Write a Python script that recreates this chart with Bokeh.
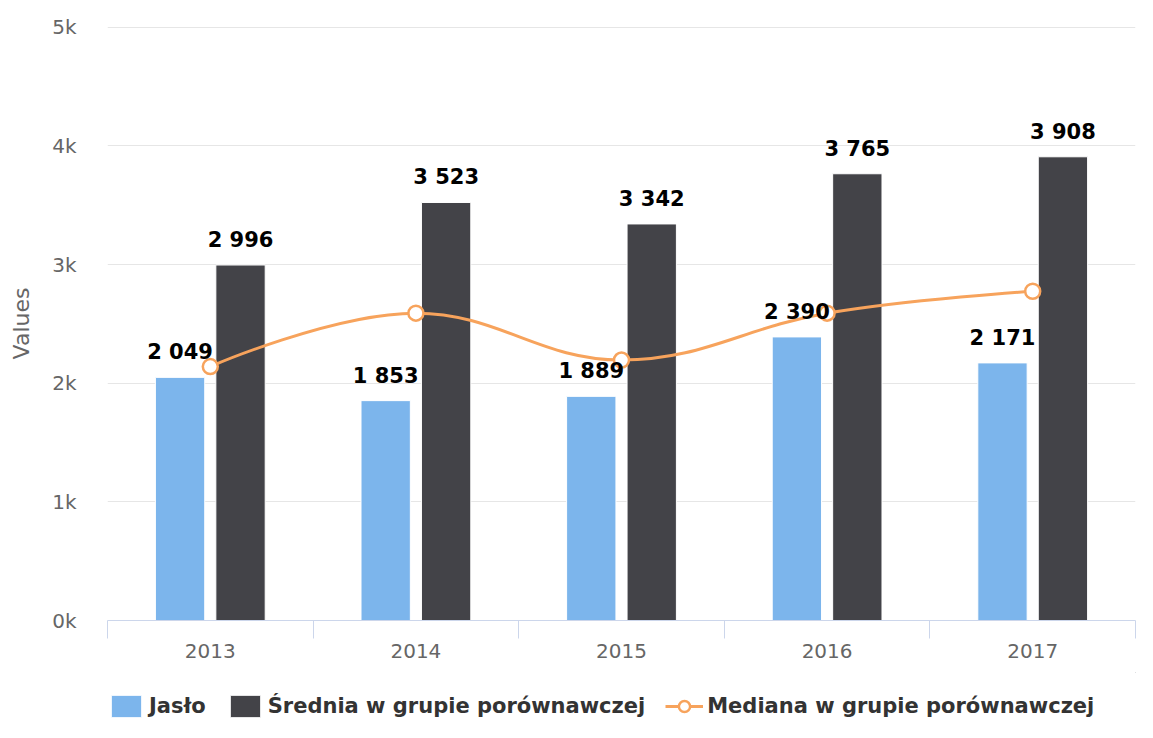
from bokeh.plotting import figure
from bokeh.models import (ColumnDataSource, Range1d, FixedTicker, LabelSet, Legend, LegendItem)
from bokeh.core.properties import value
from bokeh.layouts import column
from bokeh.embed import file_html
from bokeh.resources import INLINE

years = ["2013", "2014", "2015", "2016", "2017"]
jaslo = [2049, 1853, 1889, 2390, 2171]
srednia = [2996, 3523, 3342, 3765, 3908]
mediana = [2140, 2590, 2195, 2590, 2775]
y_ticks = [0, 1000, 2000, 3000, 4000, 5000]
y_tick_labels = ["0k", "1k", "2k", "3k", "4k", "5k"]
series_names = ["Jasło", "Średnia w grupie porównawczej", "Mediana w grupie porównawczej"]

C_BLUE = "#7cb5ec"
C_DARK = "#434348"
C_ORANGE = "#f7a35c"
FONT = "DejaVu Sans"

n = len(years)
idx = list(range(n))
off = 0.147
bw = 0.24

def fmt(v):
    return f"{v:,}".replace(",", " ")

src_j = ColumnDataSource(dict(x=[i - off for i in idx], top=jaslo, lab=[fmt(v) for v in jaslo]))
src_s = ColumnDataSource(dict(x=[i + off for i in idx], top=srednia, lab=[fmt(v) for v in srednia]))
src_m = ColumnDataSource(dict(x=idx, y=mediana))

p = figure(width=1137, height=672, output_backend="svg", toolbar_location=None,
           x_range=Range1d(-0.5, n - 0.5), y_range=Range1d(0, 5006),
           min_border_left=107, min_border_right=2, min_border_top=26, min_border_bottom=52)
p.outline_line_color = None
p.background_fill_color = "white"
p.border_fill_color = "white"

# axes
p.xaxis.ticker = FixedTicker(ticks=idx, minor_ticks=[i - 0.5 for i in range(n + 1)])
p.xaxis.major_label_overrides = {i: years[i] for i in idx}
p.xaxis.major_tick_in = 0
p.xaxis.major_tick_out = 0
p.xaxis.minor_tick_in = 0
p.xaxis.minor_tick_out = 18
p.xaxis.minor_tick_line_color = "#ccd6eb"
p.xaxis.axis_line_color = "#ccd6eb"
p.xaxis.major_label_text_color = "#666666"
p.xaxis.major_label_text_font = FONT
p.xaxis.major_label_text_font_size = "20px"
p.xaxis.major_label_standoff = 5
p.xgrid.grid_line_color = None

p.yaxis.ticker = FixedTicker(ticks=y_ticks, minor_ticks=[])
p.yaxis.major_label_overrides = {t: l for t, l in zip(y_ticks, y_tick_labels)}
p.yaxis.axis_line_color = None
p.yaxis.major_tick_line_color = None
p.yaxis.minor_tick_line_color = None
p.yaxis.major_tick_out = 0
p.yaxis.major_tick_in = 0
p.yaxis.major_label_standoff = 31
p.yaxis.major_label_text_color = "#666666"
p.yaxis.major_label_text_font = FONT
p.yaxis.major_label_text_font_size = "20px"
p.yaxis.axis_label = "Values"
p.yaxis.axis_label_text_color = "#666666"
p.yaxis.axis_label_text_font = FONT
p.yaxis.axis_label_text_font_size = "22px"
p.yaxis.axis_label_text_font_style = "normal"
p.yaxis.axis_label_standoff = 15
p.ygrid.grid_line_color = "#e6e6e6"
p.ygrid.grid_line_width = 1

# bars
bar_j = dict(fill_color=C_BLUE, line_color="white", line_width=1)
bar_s = dict(fill_color=C_DARK, line_color="white", line_width=1)
p.vbar(x="x", top="top", width=bw, bottom=0, source=src_j, **bar_j)
p.vbar(x="x", top="top", width=bw, bottom=0, source=src_s, **bar_s)

# spline (Highcharts-style control points computed from the data)
xs, ys = idx, mediana
sm, den = 1.5, 2.5
lc = []
rc = []
for i in range(n):
    px, py = xs[i], ys[i]
    if 0 < i < n - 1:
        lx, ly = xs[i - 1], ys[i - 1]
        nx, ny = xs[i + 1], ys[i + 1]
        lcx = (sm * px + lx) / den
        lcy = (sm * py + ly) / den
        rcx = (sm * px + nx) / den
        rcy = (sm * py + ny) / den
        corr = ((rcy - lcy) * (rcx - px)) / (rcx - lcx) + py - rcy
        lcy += corr
        rcy += corr
        if lcy > ly and lcy > py:
            lcy = max(ly, py); rcy = 2 * py - lcy
        elif lcy < ly and lcy < py:
            lcy = min(ly, py); rcy = 2 * py - lcy
        if rcy > ny and rcy > py:
            rcy = max(ny, py); lcy = 2 * py - rcy
        elif rcy < ny and rcy < py:
            rcy = min(ny, py); lcy = 2 * py - rcy
        lc.append((lcx, lcy)); rc.append((rcx, rcy))
    else:
        lc.append((px, py)); rc.append((px, py))

bz = ColumnDataSource(dict(
    x0=xs[:-1], y0=ys[:-1], x1=xs[1:], y1=ys[1:],
    cx0=[rc[i][0] for i in range(n - 1)], cy0=[rc[i][1] for i in range(n - 1)],
    cx1=[lc[i + 1][0] for i in range(n - 1)], cy1=[lc[i + 1][1] for i in range(n - 1)],
))
line_sty = dict(line_color=C_ORANGE, line_width=3)
mark_sty = dict(size=15, fill_color="white", line_color=C_ORANGE, line_width=2.5)
p.bezier(x0="x0", y0="y0", x1="x1", y1="y1", cx0="cx0", cy0="cy0", cx1="cx1", cy1="cy1",
         source=bz, **line_sty)
p.scatter(x="x", y="y", source=src_m, **mark_sty)

# data labels
for s in (src_j, src_s):
    p.add_layout(LabelSet(x="x", y="top", text="lab", source=s, y_offset=18, text_align="center",
                          text_baseline="alphabetic", text_font=value(FONT), text_font_size="21px",
                          text_font_style="bold", text_color="#000000"))

# legend strip: a separate figure below the chart; its view ranges lie far
# from the data in both directions so only the legend itself is visible
p2 = figure(width=1137, height=50, output_backend="svg", toolbar_location=None,
            x_range=Range1d(-1001, -1000), y_range=Range1d(-1001, -1000),
            x_axis_location=None, y_axis_location=None,
            min_border=0, min_border_left=0, min_border_right=0, min_border_top=0, min_border_bottom=0)
p2.grid.visible = False
p2.outline_line_color = None
p2.border_fill_color = "white"
l_j = p2.vbar(x="x", top="top", width=bw, bottom=0, source=src_j, **bar_j)
l_s = p2.vbar(x="x", top="top", width=bw, bottom=0, source=src_s, **bar_s)
l_l = p2.line(x="x", y="y", source=src_m, **line_sty)
l_m = p2.scatter(x="x", y="y", source=src_m, **mark_sty)

legend = Legend(items=[
    LegendItem(label=series_names[0], renderers=[l_j]),
    LegendItem(label=series_names[1], renderers=[l_s]),
    LegendItem(label=series_names[2], renderers=[l_l, l_m]),
], orientation="horizontal", location=(0, 2))
legend.label_text_font = FONT
legend.label_text_font_size = "21px"
legend.label_text_font_style = "bold"
legend.label_text_color = "#333333"
legend.glyph_width = 38
legend.glyph_height = 28
legend.spacing = 20
legend.label_standoff = 4
legend.padding = 0
legend.margin = 0
legend.border_line_color = None
legend.background_fill_alpha = 0
p2.add_layout(legend, "center")

open("out.html", "w").write(file_html(column(p, p2, spacing=0), INLINE))
